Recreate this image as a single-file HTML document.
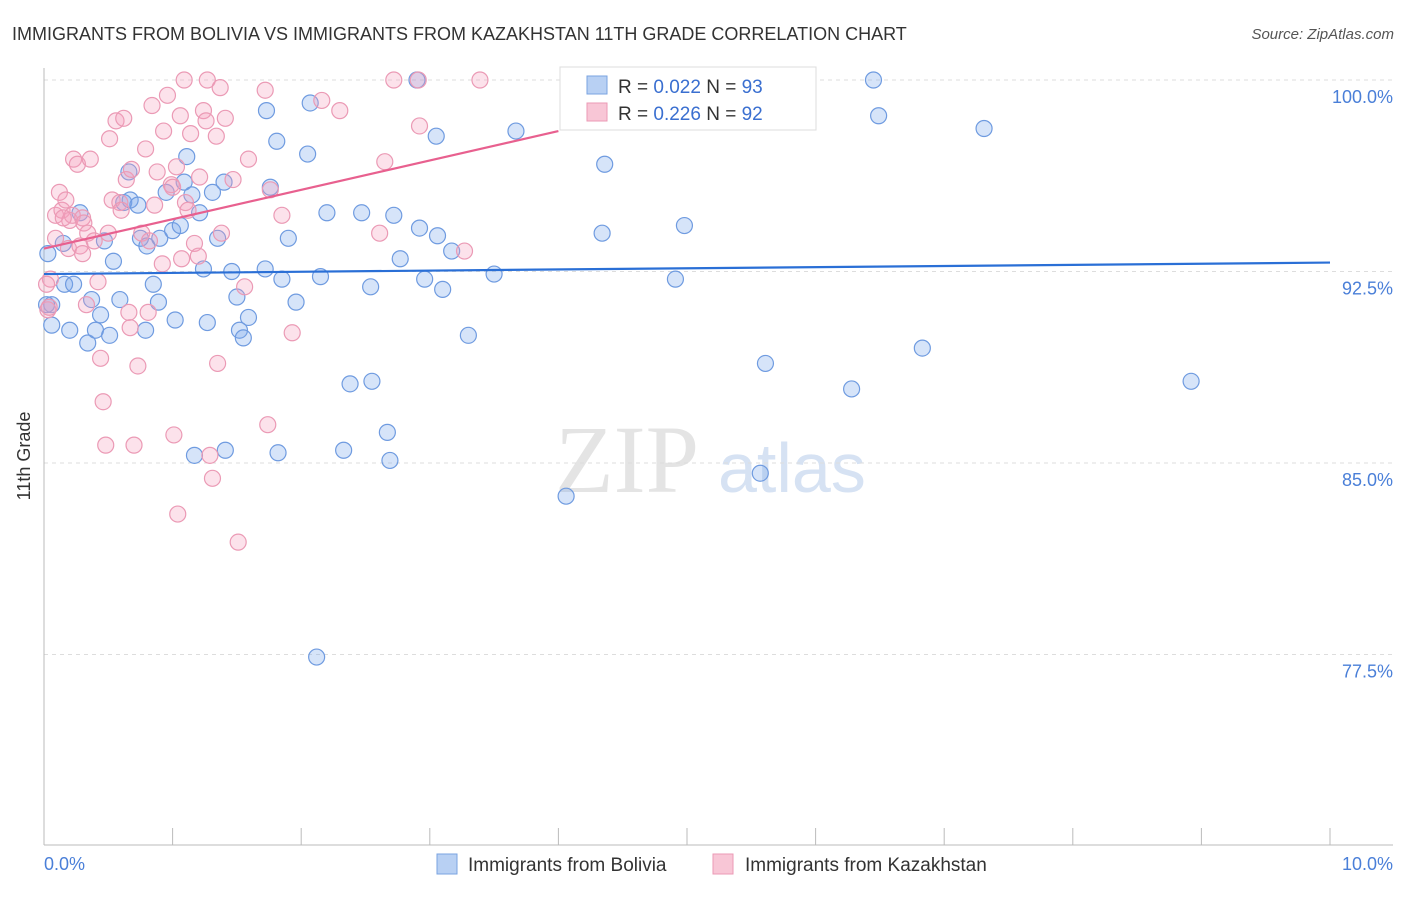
<!DOCTYPE html>
<html><head><meta charset="utf-8"><style>
body{margin:0;background:#fff;font-family:"Liberation Sans",sans-serif;}
</style></head><body>
<svg width="1406" height="892" xmlns="http://www.w3.org/2000/svg" id="chart">
<text x="12" y="40" font-size="18" fill="#333">IMMIGRANTS FROM BOLIVIA VS IMMIGRANTS FROM KAZAKHSTAN 11TH GRADE CORRELATION CHART</text>
<text x="1394" y="39" font-size="15" fill="#555" text-anchor="end" font-style="italic">Source: ZipAtlas.com</text>
<text x="30" y="456" font-size="18" fill="#333" text-anchor="middle" transform="rotate(-90 30 456)">11th Grade</text>
<text x="555" y="492" font-size="96" fill="#e4e4e4" font-family="Liberation Serif,serif">ZIP</text>
<text x="718" y="492" font-size="70" fill="#d6e2f3">atlas</text>
<g id="grid"></g><g id="axes"></g><g id="pts"></g><g id="lines"></g>
<g>
<rect x="560" y="67" width="256" height="63" fill="#fff" stroke="#ddd"/>
<rect x="587" y="76" width="20" height="18" fill="#b8d0f3" stroke="#7aa3e0"/>
<text x="618" y="93" font-size="19" fill="#333">R = <tspan fill="#3a6fd0">0.022</tspan>   N = <tspan fill="#3a6fd0">93</tspan></text>
<rect x="587" y="103" width="20" height="18" fill="#f8c6d6" stroke="#eb9ab5"/>
<text x="618" y="120" font-size="19" fill="#333">R = <tspan fill="#3a6fd0">0.226</tspan>   N = <tspan fill="#3a6fd0">92</tspan></text>
</g>
<g>
<rect x="437" y="854" width="20" height="20" fill="#b8d0f3" stroke="#7aa3e0"/>
<text x="468" y="871" font-size="19" fill="#333">Immigrants from Bolivia</text>
<rect x="713" y="854" width="20" height="20" fill="#f8c6d6" stroke="#eb9ab5"/>
<text x="745" y="871" font-size="19" fill="#333">Immigrants from Kazakhstan</text>
</g>
</svg>
<script>
const yTicks=[100,92.5,85,77.5];
const yTickLabels=["100.0%","92.5%","85.0%","77.5%"];
const xTickLabels=["0.0%","10.0%"];
const bluePts=[[0.06,91.2],[0.03,93.2],[0.15,93.6],[0.16,92.0],[0.2,90.2],[0.34,89.7],[0.23,92.0],[0.28,94.8],[0.37,91.4],[0.4,90.2],[0.44,90.8],[0.47,93.7],[0.51,90.0],[0.54,92.9],[0.59,91.4],[0.62,95.2],[0.66,96.4],[0.67,95.3],[0.73,95.1],[0.75,93.8],[0.79,90.2],[0.8,93.5],[0.85,92.0],[0.89,91.3],[0.9,93.8],[0.95,95.6],[1.0,94.1],[1.02,90.6],[1.06,94.3],[1.09,96.0],[1.11,97.0],[1.15,95.5],[1.21,94.8],[1.24,92.6],[1.27,90.5],[1.31,95.6],[1.35,93.8],[1.4,96.0],[1.41,85.5],[1.46,92.5],[1.5,91.5],[1.52,90.2],[1.55,89.9],[1.59,90.7],[1.17,85.3],[1.72,92.6],[1.73,98.8],[1.76,95.8],[1.81,97.6],[1.82,85.4],[1.85,92.2],[1.9,93.8],[1.96,91.3],[2.05,97.1],[2.07,99.1],[2.15,92.3],[2.12,77.4],[2.2,94.8],[2.33,85.5],[2.38,88.1],[2.47,94.8],[2.54,91.9],[2.55,88.2],[2.67,86.2],[2.69,85.1],[2.72,94.7],[2.77,93.0],[2.9,100],[2.92,94.2],[2.96,92.2],[3.05,97.8],[3.06,93.9],[3.1,91.8],[3.17,93.3],[3.3,90.0],[3.5,92.4],[3.67,98.0],[4.06,83.7],[4.09,99.3],[4.34,94.0],[4.36,96.7],[4.91,92.2],[4.98,94.3],[5.57,84.6],[5.61,88.9],[6.28,87.9],[6.45,100],[6.49,98.6],[6.83,89.5],[7.31,98.1],[8.92,88.2],[0.06,90.4],[0.02,91.2]];
const pinkPts=[[0.03,91.0],[0.05,92.2],[0.09,93.8],[0.09,94.7],[0.12,95.6],[0.14,94.9],[0.17,95.3],[0.19,93.4],[0.2,94.5],[0.22,94.7],[0.23,96.9],[0.26,96.7],[0.28,93.5],[0.3,94.6],[0.31,94.4],[0.33,91.2],[0.34,94.0],[0.36,96.9],[0.39,93.7],[0.42,92.1],[0.44,89.1],[0.46,87.4],[0.48,85.7],[0.5,94.0],[0.51,97.7],[0.53,95.3],[0.56,98.4],[0.59,95.2],[0.62,98.5],[0.64,96.1],[0.66,90.9],[0.67,90.3],[0.68,96.5],[0.7,85.7],[0.73,88.8],[0.76,94.0],[0.79,97.3],[0.81,90.9],[0.82,93.7],[0.84,99.0],[0.86,95.1],[0.88,96.4],[0.92,92.8],[0.93,98.0],[0.96,99.4],[0.99,95.9],[1.01,86.1],[1.03,96.6],[1.04,83.0],[1.06,98.6],[1.07,93.0],[1.09,100],[1.1,95.2],[1.12,94.9],[1.14,97.9],[1.17,93.6],[1.2,93.1],[1.21,96.2],[1.24,98.8],[1.26,98.4],[1.27,100],[1.29,85.3],[1.31,84.4],[1.34,97.8],[1.35,88.9],[1.37,99.7],[1.38,94.0],[1.41,98.5],[1.47,96.1],[1.51,81.9],[1.56,91.9],[1.59,96.9],[1.72,99.6],[1.74,86.5],[1.76,95.7],[1.85,94.7],[1.93,90.1],[2.16,99.2],[2.3,98.8],[2.61,94.0],[2.65,96.8],[2.72,100],[2.91,100],[2.92,98.2],[3.27,93.3],[3.39,100],[0.02,92.0],[0.04,91.1],[0.6,94.9],[1.0,95.8],[0.15,94.6],[0.3,93.2]];
const blueTrend=[92.4,92.85];
const pinkTrend=[93.4,98.0];
const NS="http://www.w3.org/2000/svg";
const X0=44,X1=1330,Y100=80,PX=191.5/7.5;
function xs(v){return X0+(X1-X0)*v/10;}
function ys(v){return Y100+(100-v)*PX;}
function mk(tag,attrs,parent){const e=document.createElementNS(NS,tag);for(const k in attrs)e.setAttribute(k,attrs[k]);document.getElementById(parent).appendChild(e);return e;}
yTicks.forEach((t,i)=>{
 const l=mk('line',{x1:44,x2:1393,y1:ys(t),y2:ys(t),stroke:'#ddd','stroke-dasharray':'4,4'},'grid');
 
 
 const tx=mk('text',{x:1393,y:ys(t)+23,'font-size':18,fill:'#4a7fd8','text-anchor':'end'},'grid');
 tx.textContent=yTickLabels[i];
 
 
});
let ax=mk('line',{x1:44,x2:44,y1:68,y2:845,stroke:'#bbb'},'axes');


ax=mk('line',{x1:44,x2:1393,y1:845,y2:845,stroke:'#bbb'},'axes');


for(let i=0;i<=10;i++){
 const t=mk('line',{x1:xs(i),x2:xs(i),y1:828,y2:845,stroke:'#bbb'},'axes');
 
 
}
[[0,44,'start'],[10,1393,'end']].forEach((a,i)=>{
 const tx=mk('text',{x:a[1],y:870,'font-size':18,fill:'#4a7fd8','text-anchor':a[2]},'axes');
 tx.textContent=xTickLabels[i];
 
 
});
bluePts.forEach(p=>{
 const c=mk('circle',{cx:xs(p[0]),cy:ys(p[1]),r:8,fill:'rgba(120,165,235,0.3)',stroke:'#6f9be0','stroke-width':1.2},'pts');
 
 
});
pinkPts.forEach(p=>{
 const c=mk('circle',{cx:xs(p[0]),cy:ys(p[1]),r:8,fill:'rgba(245,160,190,0.3)',stroke:'#eb9ab5','stroke-width':1.2},'pts');
 
 
});
let tl=mk('line',{x1:xs(0),y1:ys(blueTrend[0]),x2:xs(10),y2:ys(blueTrend[1]),stroke:'#2a6fd6','stroke-width':2.2},'lines');


tl=mk('line',{x1:xs(0),y1:ys(pinkTrend[0]),x2:xs(4),y2:ys(pinkTrend[1]),stroke:'#e8608f','stroke-width':2.2},'lines');


</script>
</body></html>
